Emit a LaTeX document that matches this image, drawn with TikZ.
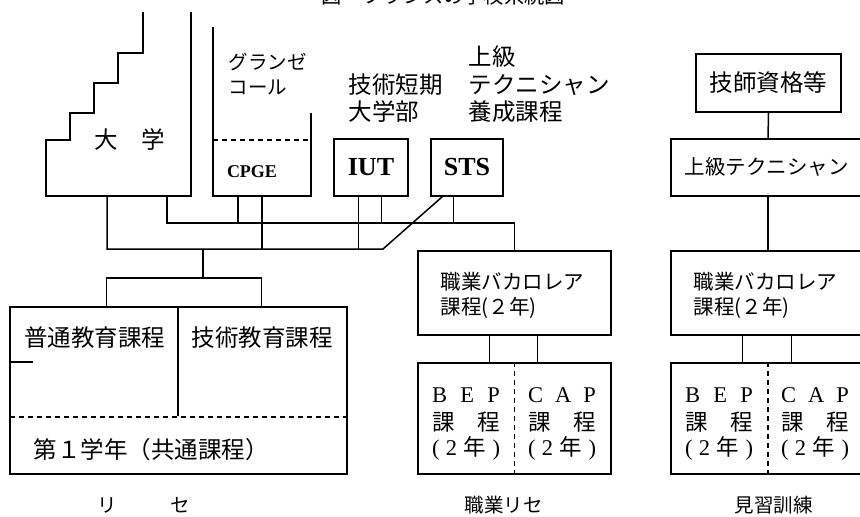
\documentclass[tikz,border=0pt]{standalone}
\usepackage{fontspec}
\setmainfont{Liberation Serif}
\newfontfamily\jp{Noto Sans CJK JP}
\begin{document}
\begin{tikzpicture}[x=1pt,y=-1pt,line width=1.5pt,
  box/.style={draw,inner sep=0pt},
  jl/.style={font=\jp\fontsize{23.5}{27}\selectfont,inner sep=0pt},
  jm/.style={font=\jp\fontsize{20.5}{24}\selectfont,inner sep=0pt},
  js/.style={font=\jp\fontsize{19.5}{23}\selectfont,inner sep=0pt},
  lat/.style={font=\bfseries\fontsize{26}{28}\selectfont,inner sep=0pt},
  bep/.style={font=\fontsize{22.5}{25}\selectfont,inner sep=0pt},
  dsh/.style={dash pattern=on 5pt off 4pt}]
\useasboundingbox (0,0) rectangle (860,517);
\clip (0,0) rectangle (860,517);
% title (cut off at top, as in the reference)
\node[font=\jp\fontsize{20.3}{24}\selectfont,inner sep=0pt] (title) at (443.5,-4) {図　フランスの学校系統図};
% university staircase
\draw (143,12) -- (143,53) -- (118,53) -- (118,83) -- (94,83) -- (94,113) -- (70,113) -- (70,140) -- (46,140) -- (46,196) -- (191,196) -- (191,12);
\node[jl] (daigaku) at (130,140) {大　学};
% CPGE / grandes ecoles
\draw (213,27) -- (213,196) -- (311,196) -- (311,113);
\draw[dsh] (213,140) -- (311,140);
\node[font=\bfseries\fontsize{18}{20}\selectfont,inner sep=0pt] (cpge) at (252,172) {CPGE};
\node[js,anchor=west] (ge1) at (228,62) {グランゼ};
\node[js,anchor=west] (ge2) at (228,87) {コール};
% IUT / STS
\node[box,minimum width=74pt,minimum height=57pt,lat] (IUT) at (371,167.5) {IUT};
\node[box,minimum width=72pt,minimum height=57pt,lat] (STS) at (467,167.5) {STS};
\node[jl,anchor=west] (iutl1) at (348,85) {技術短期};
\node[jl,anchor=west] (iutl2) at (348,112) {大学部};
\node[jl,anchor=west] (stsl1) at (468,57) {上級};
\node[jl,anchor=west] (stsl2) at (468,85) {テクニシャン};
\node[jl,anchor=west] (stsl3) at (468,112) {養成課程};
% lycee
\node[box,minimum width=337pt,minimum height=167pt] (lycee) at (178.5,390.5) {};
\draw (178,307) -- (178,416);
\draw[dsh] (10,417) -- (347,417);
\draw (10,362) -- (33,362);
\node[jl] (futsu) at (94.5,338) {普通教育課程};
\node[jl] (gijutsu) at (262,338) {技術教育課程};
\node[jl,anchor=west] (dai1nen) at (33,450) {第１学年（共通課程）};
\node[js] (ri) at (107,505) {リ};
\node[js] (se) at (180,505) {セ};
% lycee professionnel
\node[box,minimum width=193pt,minimum height=84pt] (BAC1) at (514.5,293) {};
\node[jm,anchor=west] (bac1a) at (440,282) {職業バカロレア};
\node[jm,anchor=west] (bac1b) at (440,308) {課程(２年)};
\node[box,minimum width=193pt,minimum height=111pt] (BEP1) at (514.5,418.5) {};
\draw[dsh] (BEP1.north) -- (BEP1.south);
\node[bep] (bep1a) at (466,395) {\makebox[68pt][s]{B\hfil E\hfil P}};
\node[bep] (bep1b) at (466,422) {\makebox[68pt][s]{\jp 課\hfil 程}};
\node[bep] (bep1c) at (466,448) {\makebox[68pt][s]{(\hfil 2\hfil{\jp 年}\hfil)}};
\node[bep] (cap1a) at (562,395) {\makebox[68pt][s]{C\hfil A\hfil P}};
\node[bep] (cap1b) at (562,422) {\makebox[68pt][s]{\jp 課\hfil 程}};
\node[bep] (cap1c) at (562,448) {\makebox[68pt][s]{(\hfil 2\hfil{\jp 年}\hfil)}};
\node[js] (lp) at (503.5,505) {職業リセ};
% apprentissage
\node[box,minimum width=145pt,minimum height=58pt,jl] (jishi) at (768.5,83) {技師資格等};
\node[box,minimum width=194pt,minimum height=57pt] (joukyu) at (768,167.5) {};
\node[jm,anchor=west] (joukyut) at (684,167) {上級テクニシャン};
\node[box,minimum width=194pt,minimum height=84pt] (BAC2) at (768,293) {};
\node[jm,anchor=west] (bac2a) at (693,282) {職業バカロレア};
\node[jm,anchor=west] (bac2b) at (693,308) {課程(２年)};
\node[box,minimum width=194pt,minimum height=111pt] (BEP2) at (768,418.5) {};
\draw[dsh] (BEP2.north) -- (BEP2.south);
\node[bep] (bep2a) at (719,395) {\makebox[68pt][s]{B\hfil E\hfil P}};
\node[bep] (bep2b) at (719,422) {\makebox[68pt][s]{\jp 課\hfil 程}};
\node[bep] (bep2c) at (719,448) {\makebox[68pt][s]{(\hfil 2\hfil{\jp 年}\hfil)}};
\node[bep] (cap2a) at (815,395) {\makebox[68pt][s]{C\hfil A\hfil P}};
\node[bep] (cap2b) at (815,422) {\makebox[68pt][s]{\jp 課\hfil 程}};
\node[bep] (cap2c) at (815,448) {\makebox[68pt][s]{(\hfil 2\hfil{\jp 年}\hfil)}};
\node[js] (minarai) at (773.5,505) {見習訓練};
% connector coordinates
\coordinate (dai1) at (107,196);
\coordinate (dai2) at (167,196);
\coordinate (cp1) at (238,196);
\coordinate (cp2) at (262,196);
\coordinate (iut1) at ([xshift=25pt]IUT.south west);
\coordinate (iut2) at ([xshift=48pt]IUT.south west);
\coordinate (sts1) at ([xshift=12pt]STS.south west);
\coordinate (sts2) at ([xshift=23pt]STS.south west);
\coordinate (jA) at (383,249);
\coordinate (jB) at (514.5,223);
\coordinate (jC) at (203,249);
\coordinate (jD) at (203,278);
\coordinate (ly1) at ([xshift=97pt]lycee.north west);
\coordinate (ly2) at ([xshift=252pt]lycee.north west);
\coordinate (b1a) at ([xshift=72pt]BAC1.south west);
\coordinate (b1b) at ([xshift=120pt]BAC1.south west);
\coordinate (b2a) at ([xshift=72pt]BAC2.south west);
\coordinate (b2b) at ([xshift=121pt]BAC2.south west);
% connectors
\draw (dai1) |- (jA) -- (sts1);
\draw (cp2) -- (cp2 |- jA);
\draw (iut1) -- (iut1 |- jA);
\draw (dai2) |- (jB) -- (BAC1.north);
\draw (cp1) -- (cp1 |- jB);
\draw (iut2) -- (iut2 |- jB);
\draw (sts2) -- (sts2 |- jB);
\draw (jC) -- (jD);
\draw (ly1) -- (ly1 |- jD) -- (ly2 |- jD) -- (ly2);
\draw (b1a) -- (b1a |- BEP1.north);
\draw (b1b) -- (b1b |- BEP1.north);
\draw (jishi) -- (joukyu);
\draw (joukyu) -- (BAC2);
\draw (b2a) -- (b2a |- BEP2.north);
\draw (b2b) -- (b2b |- BEP2.north);
\end{tikzpicture}
\end{document}
